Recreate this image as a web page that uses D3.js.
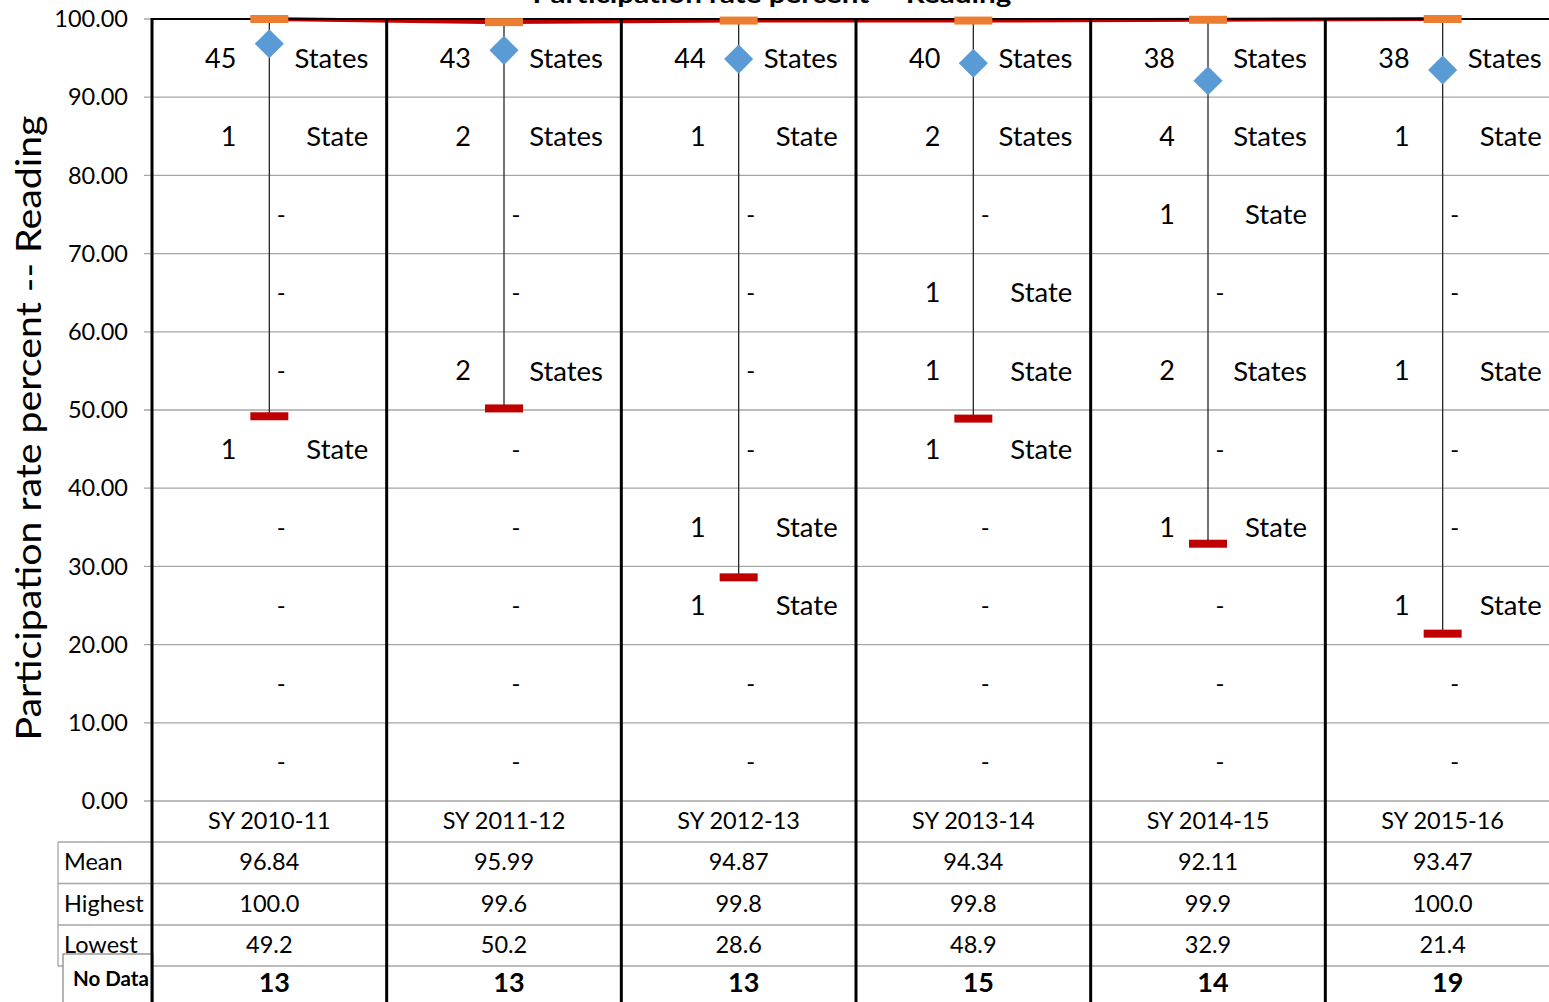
<!DOCTYPE html>
<html lang="en">
<head>
<meta charset="utf-8">
<title>Participation rate percent -- Reading</title>
<style>
  html, body {
    margin: 0;
    padding: 0;
    background: #fff;
    overflow: hidden;
  }
  svg text {
    font-family: Lato, "Open Sans", sans-serif;
    fill: #000;
  }
</style>
</head>
<body>
<svg></svg>
<script src="https://d3js.org/d3.v7.min.js"></script>
<script>

  // ---- data ----
  let years = ["SY 2010-11", "SY 2011-12", "SY 2012-13", "SY 2013-14", "SY 2014-15", "SY 2015-16"];
  let meanVals = [96.84, 95.99, 94.87, 94.34, 92.11, 93.47];
  let highVals = [100.0, 99.6, 99.8, 99.8, 99.9, 100.0];
  let lowVals = [49.2, 50.2, 28.6, 48.9, 32.9, 21.4];
  let noData = [13, 13, 13, 15, 14, 19];

  // number of states in each 10-point band, top band (90-100) first
  let bandTops = [100, 90, 80, 70, 60, 50, 40, 30, 20, 10];
  let bandCounts = [
    [45, 1, 0, 0, 0, 1, 0, 0, 0, 0],
    [43, 2, 0, 0, 2, 0, 0, 0, 0, 0],
    [44, 1, 0, 0, 0, 0, 1, 1, 0, 0],
    [40, 2, 0, 1, 1, 1, 0, 0, 0, 0],
    [38, 4, 1, 0, 2, 0, 1, 0, 0, 0],
    [38, 1, 0, 0, 1, 0, 0, 1, 0, 0]
  ];
  let yTicks = [0, 10, 20, 30, 40, 50, 60, 70, 80, 90, 100];

  let w = 1549, h = 1002;
  let svg = d3.select("svg")
    .attr("width", w)
    .attr("height", h);

  // plot area
  let pLeft = 152, pRight = 1560, pTop = 19, pBottom = 801;

  let x = d3.scaleBand()
    .domain(years)
    .range([pLeft, pRight])
    .padding(0);

  let y = d3.scaleLinear()
    .domain([0, 100])
    .range([pBottom, pTop]);

  let cx = d => x(d) + x.bandwidth() / 2;

  // gridlines
  svg.append("g")
    .selectAll("line")
    .data(yTicks)
    .enter()
    .append("line")
    .attr("x1", pLeft - 8)
    .attr("x2", pRight)
    .attr("y1", d => y(d))
    .attr("y2", d => y(d))
    .attr("stroke", "#a6a6a6")
    .attr("stroke-width", 1.3);

  // y tick labels
  svg.append("g")
    .selectAll("text")
    .data(yTicks)
    .enter()
    .append("text")
    .attr("x", 128)
    .attr("y", d => y(d))
    .attr("dy", "0.35em")
    .attr("text-anchor", "end")
    .style("font-size", "23.5px")
    .text(d => d.toFixed(2));

  // y axis title
  svg.append("text")
    .attr("transform", "translate(41,428) rotate(-90)")
    .attr("text-anchor", "middle")
    .attr("textLength", 625)
    .attr("lengthAdjust", "spacingAndGlyphs")
    .style("font-size", "34px")
    .text("Participation rate percent -- Reading");

  // chart title (cut off by the top edge, as in the original)
  svg.append("text")
    .attr("x", 772)
    .attr("y", 3)
    .attr("text-anchor", "middle")
    .attr("textLength", 479)
    .attr("lengthAdjust", "spacingAndGlyphs")
    .style("font-size", "24px")
    .style("font-weight", "bold")
    .text("Participation rate percent -- Reading");

  // table lines below the plot
  let rowLines = [842, 883.5, 925, 966];
  svg.append("g")
    .selectAll("line")
    .data(rowLines)
    .enter()
    .append("line")
    .attr("x1", 58)
    .attr("x2", pRight)
    .attr("y1", d => d)
    .attr("y2", d => d)
    .attr("stroke", "#a6a6a6")
    .attr("stroke-width", 1.3);

  svg.append("line")
    .attr("x1", 58).attr("x2", 58)
    .attr("y1", 842).attr("y2", 966)
    .attr("stroke", "#a6a6a6")
    .attr("stroke-width", 1.3);

  // "No Data" box
  svg.append("rect")
    .attr("x", 63)
    .attr("y", 954)
    .attr("width", 90)
    .attr("height", 60)
    .attr("fill", "#fff")
    .attr("stroke", "#8c8c8c")
    .attr("stroke-width", 1.3);

  // row labels
  let rowNames = ["Mean", "Highest", "Lowest"];
  svg.append("g")
    .selectAll("text")
    .data(rowNames)
    .enter()
    .append("text")
    .attr("x", 64)
    .attr("y", (d, i) => 862 + i * 41.5)
    .attr("dy", "0.35em")
    .style("font-size", "23.5px")
    .text(d => d);

  svg.append("text")
    .attr("x", 73)
    .attr("y", 979)
    .attr("dy", "0.35em")
    .style("font-size", "20.5px")
    .style("font-weight", "bold")
    .text("No Data");

  // category labels and table values
  let cols = svg.append("g")
    .selectAll("g")
    .data(years)
    .enter()
    .append("g");

  cols.append("text")
    .attr("x", d => cx(d))
    .attr("y", 821)
    .attr("dy", "0.35em")
    .attr("text-anchor", "middle")
    .style("font-size", "23.5px")
    .text(d => d);

  cols.append("text")
    .attr("x", d => cx(d))
    .attr("y", 862)
    .attr("dy", "0.35em")
    .attr("text-anchor", "middle")
    .style("font-size", "23.5px")
    .text((d, i) => meanVals[i].toFixed(2));

  cols.append("text")
    .attr("x", d => cx(d))
    .attr("y", 904)
    .attr("dy", "0.35em")
    .attr("text-anchor", "middle")
    .style("font-size", "23.5px")
    .text((d, i) => highVals[i].toFixed(1));

  cols.append("text")
    .attr("x", d => cx(d))
    .attr("y", 945)
    .attr("dy", "0.35em")
    .attr("text-anchor", "middle")
    .style("font-size", "23.5px")
    .text((d, i) => lowVals[i].toFixed(1));

  cols.append("text")
    .attr("x", d => cx(d) + 5)
    .attr("y", 983)
    .attr("dy", "0.35em")
    .attr("text-anchor", "middle")
    .style("font-size", "27px")
    .style("font-weight", "bold")
    .text((d, i) => noData[i]);

  // band count labels
  years.forEach((yr, i) => {
    let g = svg.append("g");
    let items = bandTops.map((t, j) => ({ mid: t - 5, n: bandCounts[i][j] }));

    g.selectAll("text.dash")
      .data(items.filter(d => d.n == 0))
      .enter()
      .append("text")
      .attr("class", "dash")
      .attr("x", cx(yr) + 12)
      .attr("y", d => y(d.mid))
      .attr("dy", "0.35em")
      .attr("text-anchor", "middle")
      .style("font-size", "24px")
      .text("-");

    let filled = items.filter(d => d.n > 0);
    g.selectAll("text.num")
      .data(filled)
      .enter()
      .append("text")
      .attr("class", "num")
      .attr("x", cx(yr) - 33)
      .attr("y", d => y(d.mid))
      .attr("dy", "0.35em")
      .attr("text-anchor", "end")
      .style("font-size", "27px")
      .text(d => d.n);

    g.selectAll("text.word")
      .data(filled)
      .enter()
      .append("text")
      .attr("class", "word")
      .attr("x", cx(yr) + 99)
      .attr("y", d => y(d.mid))
      .attr("dy", "0.35em")
      .attr("text-anchor", "end")
      .style("font-size", "27.5px")
      .text(d => d.n == 1 ? "State" : "States");
  });

  // high-low lines
  svg.append("g")
    .selectAll("line")
    .data(years)
    .enter()
    .append("line")
    .attr("x1", d => cx(d))
    .attr("x2", d => cx(d))
    .attr("y1", (d, i) => y(highVals[i]))
    .attr("y2", (d, i) => y(lowVals[i]))
    .attr("stroke", "#262626")
    .attr("stroke-width", 1.3);

  // line through the highest values
  let highLine = d3.line()
    .x((d, i) => cx(years[i]))
    .y(d => y(d));

  svg.append("path")
    .datum(highVals)
    .attr("d", highLine)
    .attr("fill", "none")
    .attr("stroke", "#c00000")
    .attr("stroke-width", 4);

  // plot border and column separators
  svg.append("line")
    .attr("x1", pLeft).attr("x2", pRight)
    .attr("y1", pTop).attr("y2", pTop)
    .attr("stroke", "#000")
    .attr("stroke-width", 2);

  let seps = years.map(d => x(d));
  svg.append("g")
    .selectAll("line")
    .data(seps)
    .enter()
    .append("line")
    .attr("x1", d => d)
    .attr("x2", d => d)
    .attr("y1", pTop - 1)
    .attr("y2", h)
    .attr("stroke", "#000")
    .attr("stroke-width", 3);

  // markers: highest (orange), lowest (red), mean (blue diamond)
  let barW = 38, barH = 8;
  svg.append("g")
    .selectAll("rect")
    .data(highVals)
    .enter()
    .append("rect")
    .attr("x", (d, i) => cx(years[i]) - barW / 2)
    .attr("y", d => y(d) - barH / 2)
    .attr("width", barW)
    .attr("height", barH)
    .attr("fill", "#ed7d31");

  svg.append("g")
    .selectAll("rect")
    .data(lowVals)
    .enter()
    .append("rect")
    .attr("x", (d, i) => cx(years[i]) - barW / 2)
    .attr("y", d => y(d) - barH / 2)
    .attr("width", barW)
    .attr("height", barH)
    .attr("fill", "#c00000");

  let diamond = d3.symbol().type(d3.symbolDiamond2).size(540);
  svg.append("g")
    .selectAll("path")
    .data(meanVals)
    .enter()
    .append("path")
    .attr("d", diamond)
    .attr("transform", (d, i) => `translate(${cx(years[i])},${y(d)})`)
    .attr("fill", "#5b9bd5");

</script>
</body>
</html>
